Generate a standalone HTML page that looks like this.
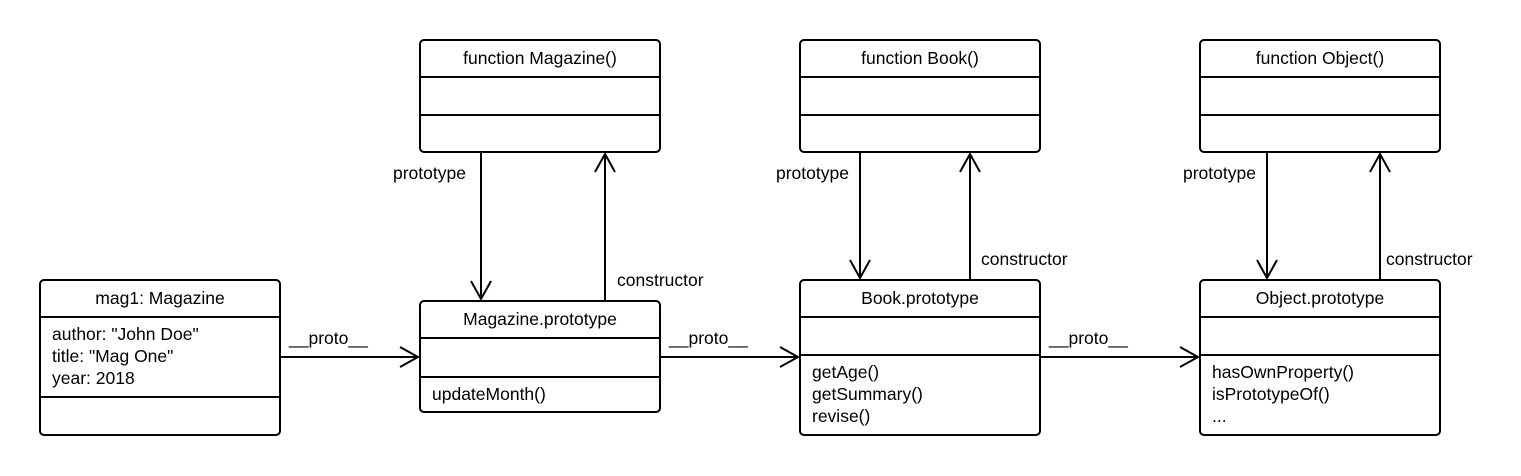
<!DOCTYPE html>
<html><head><style>body{margin:0;background:#fff}svg{display:block}text{font-family:"Liberation Sans",sans-serif;font-size:17.5px;fill:#000}</style></head><body>
<svg width="1521" height="476" viewBox="0 0 1521 476" xmlns="http://www.w3.org/2000/svg">
<g fill="none" stroke="#000" stroke-width="2">
<rect x="40" y="280" width="240" height="155" rx="4"/><line x1="40" y1="317" x2="280" y2="317"/><line x1="40" y1="397" x2="280" y2="397"/>
<rect x="420" y="40" width="240" height="112" rx="4"/><line x1="420" y1="77" x2="660" y2="77"/><line x1="420" y1="115" x2="660" y2="115"/>
<rect x="800" y="40" width="240" height="112" rx="4"/><line x1="800" y1="77" x2="1040" y2="77"/><line x1="800" y1="115" x2="1040" y2="115"/>
<rect x="1200" y="40" width="240" height="112" rx="4"/><line x1="1200" y1="77" x2="1440" y2="77"/><line x1="1200" y1="115" x2="1440" y2="115"/>
<rect x="420" y="301" width="240" height="111" rx="4"/><line x1="420" y1="338" x2="660" y2="338"/><line x1="420" y1="377" x2="660" y2="377"/>
<rect x="800" y="280" width="240" height="155" rx="4"/><line x1="800" y1="317" x2="1040" y2="317"/><line x1="800" y1="355" x2="1040" y2="355"/>
<rect x="1200" y="280" width="240" height="155" rx="4"/><line x1="1200" y1="317" x2="1440" y2="317"/><line x1="1200" y1="355" x2="1440" y2="355"/>
<line x1="280" y1="357" x2="418" y2="357"/><polyline points="400,347 418,357 400,367"/>
<line x1="660" y1="357" x2="798" y2="357"/><polyline points="780,347 798,357 780,367"/>
<line x1="1040" y1="357" x2="1198" y2="357"/><polyline points="1180,347 1198,357 1180,367"/>
<line x1="481" y1="152" x2="481" y2="299"/><polyline points="471,281 481,299 491,281"/>
<line x1="605" y1="301" x2="605" y2="154"/><polyline points="595,172 605,154 615,172"/>
<line x1="860" y1="152" x2="860" y2="278"/><polyline points="850,260 860,278 870,260"/>
<line x1="970" y1="280" x2="970" y2="154"/><polyline points="960,172 970,154 980,172"/>
<line x1="1267" y1="152" x2="1267" y2="278"/><polyline points="1257,260 1267,278 1277,260"/>
<line x1="1380" y1="280" x2="1380" y2="154"/><polyline points="1370,172 1380,154 1390,172"/>
</g>
<g text-anchor="middle">
<text x="160" y="304">mag1: Magazine</text>
<text x="540" y="64">function Magazine()</text>
<text x="920" y="64">function Book()</text>
<text x="1320" y="64">function Object()</text>
<text x="540" y="325">Magazine.prototype</text>
<text x="920" y="304">Book.prototype</text>
<text x="1320" y="304">Object.prototype</text>
</g>
<text x="52" y="340">author: "John Doe"</text>
<text x="52" y="362">title: "Mag One"</text>
<text x="52" y="384">year: 2018</text>
<text x="432" y="400">updateMonth()</text>
<text x="812" y="378">getAge()</text>
<text x="812" y="400">getSummary()</text>
<text x="812" y="422">revise()</text>
<text x="1212" y="378">hasOwnProperty()</text>
<text x="1212" y="400">isPrototypeOf()</text>
<text x="1212" y="422">...</text>
<text x="289" y="344">__proto__</text>
<text x="669" y="344">__proto__</text>
<text x="1049" y="344">__proto__</text>
<text x="393" y="179">prototype</text>
<text x="617" y="286">constructor</text>
<text x="776" y="179">prototype</text>
<text x="981" y="265">constructor</text>
<text x="1183" y="179">prototype</text>
<text x="1386" y="265">constructor</text>
</svg>
</body></html>
